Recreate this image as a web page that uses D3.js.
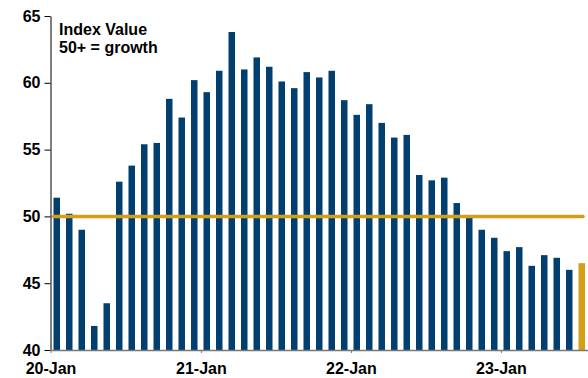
<!DOCTYPE html>
<html>
<head>
<meta charset="utf-8">
<script src="https://cdn.jsdelivr.net/npm/d3@7"></script>
<style>
  body { margin: 0; background: #fff; }
  text { font-family: "Liberation Sans", Arial, sans-serif; font-weight: bold; }
</style>
</head>
<body>
<div id="chart"></div>
<script>
// monthly index values, Jan 2020 .. Jul 2023
const months = d3.timeMonths(new Date(2020, 0, 1), new Date(2023, 7, 1));
const values = [
  51.4, 50.2, 49.0, 41.8, 43.5, 52.6, 53.8, 55.4, 55.5, 58.8, 57.4, 60.2,
  59.3, 60.9, 63.8, 61.0, 61.9, 61.2, 60.1, 59.6, 60.8, 60.4, 60.9, 58.7,
  57.6, 58.4, 57.0, 55.9, 56.1, 53.1, 52.7, 52.9, 51.0, 49.9, 49.0, 48.4,
  47.4, 47.7, 46.3, 47.1, 46.9, 46.0, 46.5
];
const yTicks = [40, 45, 50, 55, 60, 65];
const threshold = 50;
const noteLines = ["Index Value", "50+ = growth"];

const data = months.map((m, i) => ({ month: m, value: values[i] }));

const W = 588, H = 378;
const margin = { top: 16, right: 0, bottom: 28, left: 50.5 };
const width = W - margin.left - margin.right;
const height = H - margin.top - margin.bottom;

const svg = d3.select("#chart").append("svg")
  .attr("width", W)
  .attr("height", H)
  .append("g")
  .attr("transform", "translate(" + margin.left + "," + margin.top + ")");

const x = d3.scaleBand()
  .domain(months)
  .range([0, width])
  .paddingInner(0.48)
  .paddingOuter(0.24);

const xTime = d3.scaleTime()
  .domain([months[0], new Date(2023, 7, 1)])
  .range([0, width]);

const y = d3.scaleLinear()
  .domain([40, 65])
  .range([height, 0]);

// bars
svg.selectAll(".bar")
  .data(data)
  .enter().append("rect")
  .attr("class", "bar")
  .attr("x", d => x(d.month))
  .attr("width", x.bandwidth())
  .attr("y", d => y(d.value))
  .attr("height", d => y(40) - y(d.value))
  .attr("fill", (d, i) => i === data.length - 1 ? "#D49E17" : "#003F6F");

// 50 line
svg.append("line")
  .attr("x1", 3)
  .attr("x2", width - 5)
  .attr("y1", y(threshold))
  .attr("y2", y(threshold))
  .attr("stroke", "#D49E17")
  .attr("stroke-width", 3.5)
  .attr("stroke-linecap", "round");

// y axis
const yAxis = svg.append("g")
  .call(d3.axisLeft(y).tickValues(yTicks).tickSize(6).tickPadding(4).tickSizeOuter(0));
yAxis.selectAll("text").style("font-size", "16px").attr("fill", "#000");
yAxis.selectAll("line, path").attr("stroke", "#000");

// x axis
const xAxis = svg.append("g")
  .attr("transform", "translate(0," + height + ")")
  .call(d3.axisBottom(xTime)
    .tickValues(months.filter(m => m.getMonth() === 0))
    .tickFormat(d3.timeFormat("%y-%b"))
    .tickSize(3)
    .tickPadding(10)
    .tickSizeOuter(0));
xAxis.selectAll("text").style("font-size", "16px").attr("fill", "#000");
xAxis.selectAll("line, path").attr("stroke", "#777");
xAxis.select(".domain").attr("stroke-width", 1.5);

// note
svg.selectAll(".note")
  .data(noteLines)
  .enter().append("text")
  .attr("class", "note")
  .attr("x", 8.5)
  .attr("y", (d, i) => 18.5 + i * 18)
  .style("font-size", "16px")
  .text(d => d);
</script>
</body>
</html>
